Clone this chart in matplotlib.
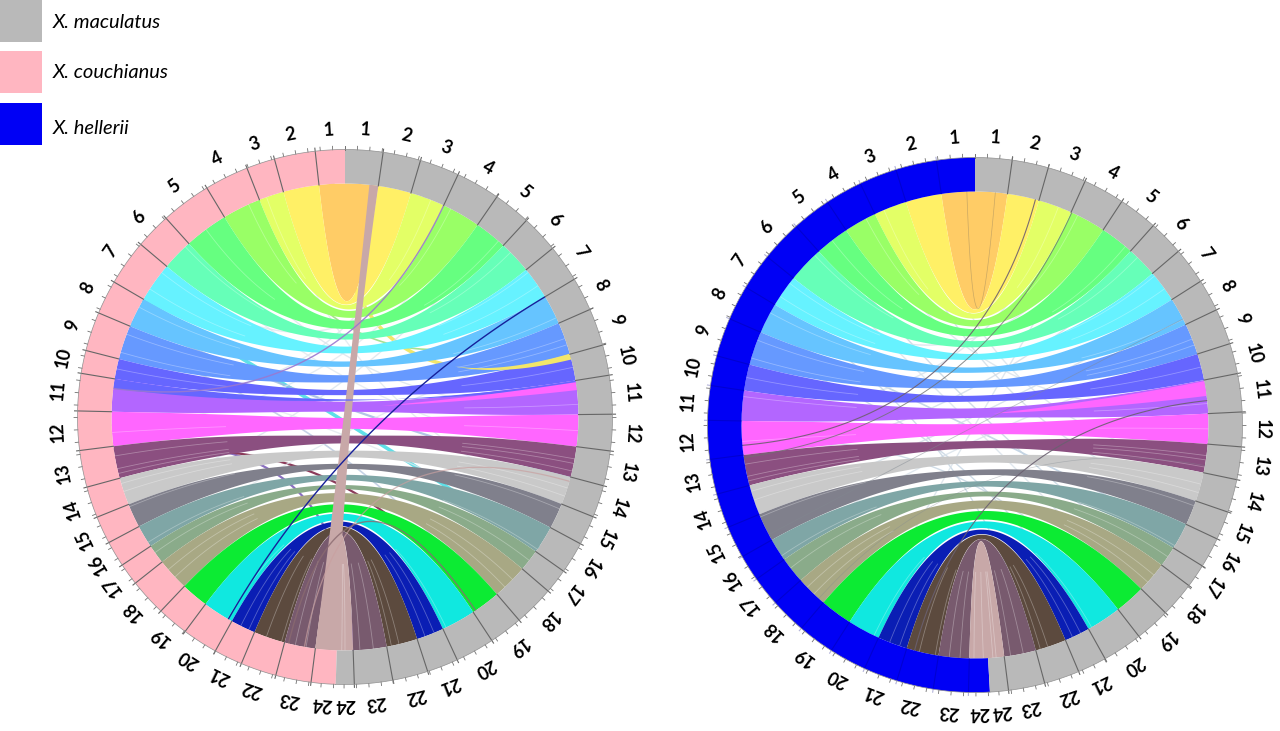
#!/usr/bin/env python
import numpy as np
import matplotlib
matplotlib.use("Agg")
from matplotlib import pyplot as plt
from matplotlib.patches import Wedge, Rectangle

chroms = [str(i) for i in range(1, 25)]

# chromosome edges, degrees clockwise from 12 o'clock
cou_edges = [0, -6.4, -15.3, -21.5, -31.1, -42, -49.8, -59.7, -67.1, -75.6, -80.6, -88.7,
             -97.2, -105.2, -112, -118, -123.6, -128.4, -136.5, -143.3, -151, -157.2, -165, -172.7, -178]
mac_a_edges = [0, 8.2, 16.4, 25, 34.6, 42.7, 50.9, 59, 66.3, 74.4, 81, 89.4,
               97.3, 104.9, 111.9, 118.3, 125.2, 130.6, 139.4, 146.7, 155.2, 162, 169.7, 178, 182]
hel_edges = [0, -8.3, -17.2, -25.4, -33.5, -42, -51, -59, -66.6, -75, -81.5, -89,
             -97.4, -105, -112.5, -119.5, -125.2, -131.7, -139.5, -147.5, -155.6, -163, -171, -178.6, -183.2]
mac_b_edges = [0, 8, 15.9, 24.3, 33.3, 41.8, 49.5, 57.5, 64.5, 72.3, 78.9, 87.2,
               94.7, 101.8, 109, 115.2, 121.8, 126.9, 134.6, 142.2, 150.9, 157.2, 164.9, 172.8, 176.8]

ribbon_colors = ['#FFCC66', '#FFF066', '#E3FF66', '#99FF66', '#66FF80', '#66FFB8',
                 '#66F2FF', '#66C4FF', '#6699FF', '#6666FF', '#B366FF', '#FF66FF',
                 '#8B4F80', '#C9C9C9', '#80808C', '#7FA6A6', '#8AAB8A', '#A8A884',
                 '#0CEB33', '#10E8E0', '#0A1EB4', '#5C4A3E', '#785A6E', '#C8A8A8']

# how much each ribbon narrows at the middle of the circle
waist = [0, 0.05, 0.15, 0.25, 0.3, 0.5, 0.55, 0.6, 0.55, 0.55, 0.4, 0.35,
         0.5, 0.5, 0.55, 0.5, 0.5, 0.3, 0.15, 0.25, 0.2, 0.05, 0.05, 0]

# (chromosome, share across left end, share across right end) pale streaks
streaks = [(3, .7, .6), (4, .3, .2), (5, .5, .8), (6, .15, .3), (7, .2, .1), (7, .7, .6),
           (8, .3, .8), (9, .25, .5), (9, .8, .7), (10, .5, .5), (11, .2, .7), (12, .6, .5),
           (13, .3, .4), (13, .7, .55), (13, .85, .8), (14, .5, .4), (14, .2, .7),
           (15, .1, .2), (16, .8, .9), (17, .4, .5), (18, .3, .4), (18, .6, .7),
           (20, .85, .9), (21, .75, .7), (21, .4, .35), (22, .9, .85), (22, .4, .6),
           (23, .35, .4), (23, .7, .8), (24, .25, .5), (24, .75, .7)]

# thin links (left angle, right angle, colour, width, alpha) under the ribbons
under_a = [(-98, 178, '#8A6FC0', 1.6, 1), (-100, 146, '#8B3A5A', 1.6, 1),
           (-60, 124, '#5FE0E8', 2.6, 1), (-3, 75, '#F2E66A', 2.6, 1),
           (-24, 65, '#A8E090', 1.2, 1), (-66, 105, '#9FB8E0', 1.6, .8),
           (-72, 142, '#B8C8E0', 1.2, .8), (-52, 28, '#DDE6EC', 1, .8),
           (-84, 20, '#DDE6EC', 1, .8), (-36, 88, '#D8E4EC', 1, .8),
           (-110, 40, '#D8E4EC', 1, .8), (-45, 100, '#E0E8EE', 1, .8),
           (-18, 112, '#E0E8EE', 1, .8), (-124, 70, '#E0E8EE', 1, .8),
           (-92, 32, '#E0E8EE', 1, .8), (-77, 120, '#E0E8EE', 1, .8)]
under_b = [(-66, 118, '#B8CCE0', 1.2, .8), (-40, 128, '#C4D4E2', 1, .8), (-72, 150, '#C4D4E2', 1, .8),
           (-20, 110, '#D0DCE6', 1, .8), (-55, 32, '#D8E2EA', 1, .8), (-84, 22, '#D8E2EA', 1, .8),
           (-100, 46, '#D0DCE6', 1, .8), (-112, 60, '#D0DCE6', 1, .8), (-122, 72, '#D8E2EA', 1, .8),
           (-30, 86, '#D8E2EA', 1, .8), (-12, 100, '#D8E2EA', 1, .8), (-94, 142, '#C4D4E2', 1, .8),
           (-60, 165, '#C4D4E2', 1, .8), (-46, 136, '#D8E2EA', 1, .8), (-150, 30, '#D8E2EA', 1, .8)]

# thin links on top of the ribbons
over_a = [(-150, 59, '#16209A', 1.0, 1), (-83, 25, '#9A78D0', 1.0, .9),
          (-170, 106, '#C8A0A0', .9, .7), (-166, 146, '#8A6A70', 1.0, .8)]
over_b = [(-95, 15, '#6E5E70', .8, .9), (-98, 24.5, '#707070', .7, .8),
          (-165, 84, '#6A6070', .8, .9), (-2, 5, '#A89060', .5, .6), (-118, 63, '#808890', .6, .5),
          (-138, 100, '#808890', .5, .4)]

# wider chunks: (left from, left to, right from, right to, colour, narrowing)
bands_a = [(-172.7, -178, 6, 8.2, '#C8A8A8', 0), (-83, -80.6, 81, 82, '#6666FF', 0)]
bands_b = []

# tapered ends of links that run under the ribbons: (left angle, right angle, colour, end width, last share)
stubs_a = [(-2.5, 75, '#F2E66A', 6, .3), (-89, 82.4, '#FF66FF', 8, .42)]
stubs_b = [(-89, 81, '#FF66FF', 15, .46)]

legend_names = ['X. maculatus', 'X. couchianus', 'X. hellerii']
legend_colors = ['#B9B9B9', '#FFB6C1', '#0000F5']

R_IN = 233.5
R_OUT = 267.5
TICK_STEP = 2.65


def xy(cx, cy, deg, r):
  th = np.radians(deg)
  return cx + r*np.sin(th), cy - r*np.cos(th)


def curve(cx, cy, a, b, t):
  # quadratic bezier from a to b with the circle centre as control point
  x0, y0 = xy(cx, cy, a, R_IN)
  x1, y1 = xy(cx, cy, b, R_IN)
  return ((1-t)**2*x0 + 2*t*(1-t)*cx + t**2*x1,
          (1-t)**2*y0 + 2*t*(1-t)*cy + t**2*y1)


def ribbon(ax, cx, cy, l0, l1, r0, r1, color, pinch, z):
  t = np.linspace(0, 1, 120)
  xa, ya = curve(cx, cy, l0, r0, t)
  xb, yb = curve(cx, cy, l1, r1, t)
  xm, ym = (xa+xb)/2, (ya+yb)/2
  s = 1 - pinch*np.sin(np.pi*t)**4
  xa, ya = xm + (xa-xm)*s, ym + (ya-ym)*s
  xb, yb = xm + (xb-xm)*s, ym + (yb-ym)*s
  arc_r = np.radians(np.linspace(r0, r1, 12))
  arc_l = np.radians(np.linspace(l1, l0, 12))
  px = np.r_[xa, cx + R_IN*np.sin(arc_r), xb[::-1], cx + R_IN*np.sin(arc_l)]
  py = np.r_[ya, cy - R_IN*np.cos(arc_r), yb[::-1], cy - R_IN*np.cos(arc_l)]
  ax.fill(px, py, color=color, lw=0, zorder=z)


def stub(ax, cx, cy, a, b, color, width, share):
  t = np.linspace(1-share, 1, 60)
  x, y = curve(cx, cy, a, b, t)
  dx, dy = np.gradient(x), np.gradient(y)
  n = np.hypot(dx, dy)
  half = width/2*(t-t[0])/share
  ax.fill(np.r_[x - dy/n*half, (x + dy/n*half)[::-1]],
          np.r_[y + dx/n*half, (y - dx/n*half)[::-1]], color=color, lw=0, zorder=3.5)


def ring(ax, cx, cy, edges, color, line, line_alpha):
  lo, hi = min(edges), max(edges)
  # Wedge angles run the other way round on an inverted y axis
  ax.add_patch(Wedge((cx, cy), R_OUT, lo-90, hi-90, width=R_OUT-R_IN, fc=color, ec='none', zorder=5))
  for e in edges[1:-1]:
    x0, y0 = xy(cx, cy, e, R_IN)
    x1, y1 = xy(cx, cy, e, R_OUT+3)
    ax.plot([x0, x1], [y0, y1], color=line, lw=.8, alpha=line_alpha, zorder=6)
  sign = 1 if hi > 0 else -1
  for e in np.arange(0, max(abs(lo), abs(hi)), TICK_STEP)*sign:
    x0, y0 = xy(cx, cy, e, R_OUT)
    x1, y1 = xy(cx, cy, e, R_OUT+3.5)
    ax.plot([x0, x1], [y0, y1], color='#707070', lw=.6, zorder=6)
  arc = np.radians(np.linspace(lo, hi, 200))
  ax.plot(cx + R_OUT*np.sin(arc), cy - R_OUT*np.cos(arc), color='#909090', lw=.5, zorder=6)
  for i, c in enumerate(chroms):
    m = (edges[i] + edges[i+1])/2
    x, y = xy(cx, cy, m, R_OUT+20)
    ax.text(x, y, c, rotation=-m, rotation_mode='anchor', ha='center', va='center',
            fontsize=13, fontweight='bold', family='Lato', color='black', zorder=7)


def panel(ax, cx, cy, left, right, left_color, left_line, left_alpha, under, over, bands, stubs):
  t = np.linspace(0, 1, 120)
  for a, b, col, w, al in under:
    x, y = curve(cx, cy, a, b, t)
    ax.plot(x, y, color=col, lw=w, alpha=al, zorder=1)
  for i in range(24):
    ribbon(ax, cx, cy, left[i], left[i+1], right[i], right[i+1], ribbon_colors[i], waist[i], 2)
  for n, fl, fr in streaks:
    a = left[n-1] + (left[n]-left[n-1])*fl
    b = right[n-1] + (right[n]-right[n-1])*fr
    x, y = curve(cx, cy, a, b, t)
    ax.plot(x[t < .25], y[t < .25], color='white', lw=.6, alpha=.3, zorder=3)
    ax.plot(x[t > .75], y[t > .75], color='white', lw=.6, alpha=.3, zorder=3)
  for l0, l1, r0, r1, col, p in bands:
    ribbon(ax, cx, cy, l0, l1, r0, r1, col, p, 3.5)
  for a, b, col, w, share in stubs:
    stub(ax, cx, cy, a, b, col, w, share)
  for a, b, col, w, al in over:
    x, y = curve(cx, cy, a, b, t)
    ax.plot(x, y, color=col, lw=w, alpha=al, zorder=4)
  ring(ax, cx, cy, left, left_color, left_line, left_alpha)
  ring(ax, cx, cy, right, legend_colors[0], '#666666', 1)


def main():
  fig = plt.figure(figsize=(12.8, 7.31), dpi=100)
  ax = fig.add_axes([0, 0, 1, 1])
  ax.set_xlim(0, 1280)
  ax.set_ylim(731, 0)
  ax.axis('off')

  panel(ax, 345, 417, cou_edges, mac_a_edges, legend_colors[1], '#666666', 1, under_a, over_a, bands_a, stubs_a)
  panel(ax, 975, 425, hel_edges, mac_b_edges, legend_colors[2], '#000080', .3, under_b, over_b, bands_b, stubs_b)

  for name, col, top, ty in zip(legend_names, legend_colors, [0, 51, 103], [22, 73, 128]):
    ax.add_patch(Rectangle((0, top), 42, 42, fc=col, ec='none'))
    ax.text(53, ty, name, fontsize=14.5, style='italic', family='Lato', ha='left', va='center')

  fig.savefig('out.png', dpi=100)


if __name__ == '__main__':
  main()
